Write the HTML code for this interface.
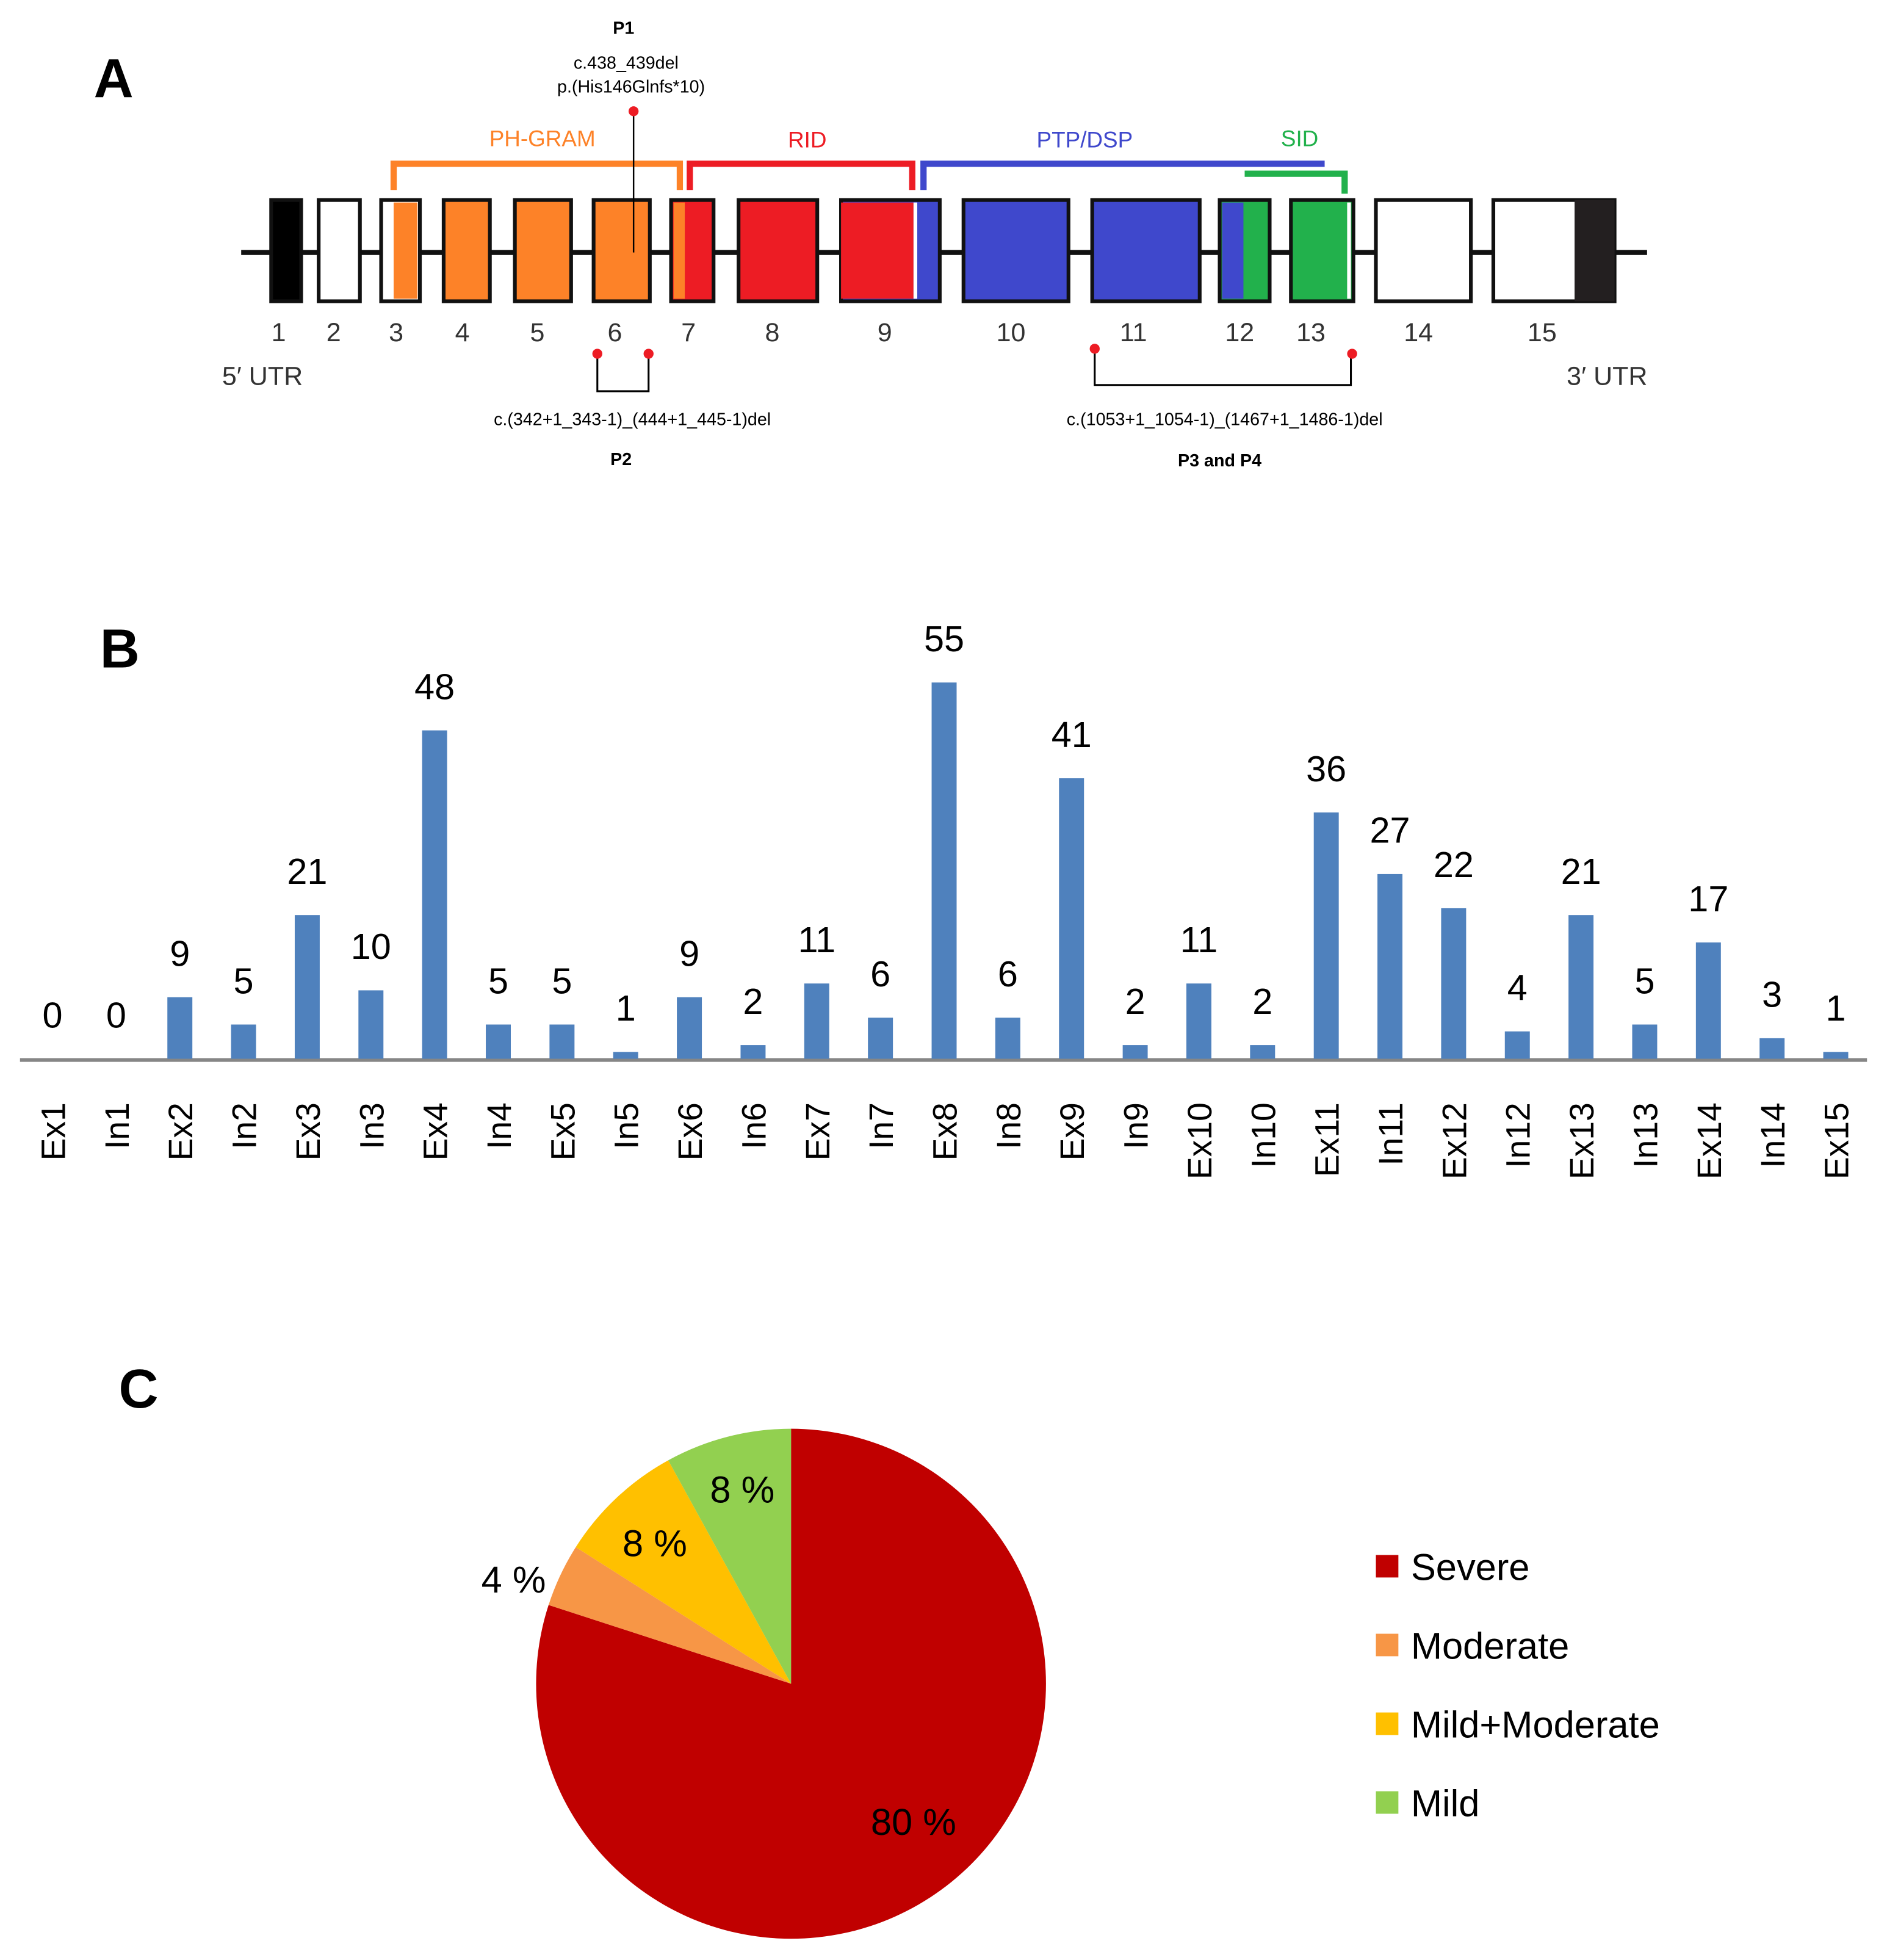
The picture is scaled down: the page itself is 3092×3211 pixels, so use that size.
<!DOCTYPE html>
<html><head><meta charset="utf-8"><style>
html,body{margin:0;padding:0;background:#fff;}
svg{display:block;}
text{font-family:"Liberation Sans",sans-serif;}
.n{font-family:"Liberation Sans Narrow","Liberation Sans",sans-serif;}
</style></head><body>
<svg id="fig" width="3092" height="3211" viewBox="0 0 1510 1568" preserveAspectRatio="none">
<rect width="1510" height="1568" fill="#fff"/>
<!-- Panel A -->
<g>
<text x="75" y="78" font-size="44" font-weight="bold">A</text>
<line x1="193" y1="202" x2="1318" y2="202" stroke="#111" stroke-width="4"/>
<g stroke="#111" stroke-width="3">
<rect x="217" y="160" width="24" height="81" fill="#000"/>
<rect x="255" y="160" width="33" height="81" fill="#fff"/>
<rect x="305" y="160" width="31" height="81" fill="#fff"/>
<rect x="355" y="160" width="37" height="81" fill="#FD8228"/>
<rect x="412" y="160" width="45" height="81" fill="#FD8228"/>
<rect x="475" y="160" width="45" height="81" fill="#FD8228"/>
<rect x="537" y="160" width="34" height="81" fill="#ED1C24"/>
<rect x="591" y="160" width="63" height="81" fill="#ED1C24"/>
<rect x="673" y="160" width="79" height="81" fill="#3F48CC"/>
<rect x="771" y="160" width="84" height="81" fill="#3F48CC"/>
<rect x="874" y="160" width="86" height="81" fill="#3F48CC"/>
<rect x="976" y="160" width="40" height="81" fill="#22B14C"/>
<rect x="1033" y="160" width="50" height="81" fill="#22B14C"/>
<rect x="1101" y="160" width="76" height="81" fill="#fff"/>
<rect x="1195" y="160" width="97" height="81" fill="#fff"/>
</g>
<rect x="315" y="162" width="19" height="77" fill="#FD8228"/>
<rect x="539" y="162" width="9" height="77" fill="#FD8228"/>
<rect x="673" y="162" width="58" height="77" fill="#ED1C24"/>
<rect x="731" y="162" width="3" height="77" fill="#fff"/>
<rect x="978" y="162" width="17" height="77" fill="#3F48CC"/>
<rect x="1078" y="162" width="3" height="77" fill="#fff"/>
<rect x="1260" y="160" width="32" height="81" fill="#231F20"/>
<g fill="none" stroke-width="5">
<path d="M315 152 V131 H544 V152" stroke="#FD8228"/>
<path d="M552 152 V131 H730 V152" stroke="#ED1C24"/>
<path d="M739 152 V131 H1060" stroke="#3F48CC"/>
<path d="M996 139 H1076 V155" stroke="#22B14C"/>
</g>
<g font-size="18" text-anchor="middle" class="n">
<text x="434" y="117" fill="#FD8228">PH-GRAM</text>
<text x="646" y="118" fill="#ED1C24">RID</text>
<text x="868" y="118" fill="#3F48CC">PTP/DSP</text>
<text x="1040" y="117" fill="#22B14C">SID</text>
</g>
<g font-size="14" text-anchor="middle">
<text x="499" y="27" font-weight="bold">P1</text>
<text x="501" y="55">c.438_439del</text>
<text x="505" y="74">p.(His146Glnfs*10)</text>
<text x="506" y="340">c.(342+1_343-1)_(444+1_445-1)del</text>
<text x="497" y="372" font-weight="bold">P2</text>
<text x="980" y="340">c.(1053+1_1054-1)_(1467+1_1486-1)del</text>
<text x="976" y="373" font-weight="bold">P3 and P4</text>
</g>
<line x1="507" y1="89" x2="507" y2="202" stroke="#000" stroke-width="1.2"/>
<circle cx="507" cy="89" r="4" fill="#ED1C24"/>
<path d="M478 283 V313 H519 V283" fill="none" stroke="#000" stroke-width="1.5"/>
<circle cx="478" cy="283" r="4" fill="#ED1C24"/><circle cx="519" cy="283" r="4" fill="#ED1C24"/>
<path d="M876 279 V308 H1081 V283" fill="none" stroke="#000" stroke-width="1.5"/>
<circle cx="876" cy="279" r="4" fill="#ED1C24"/><circle cx="1082" cy="283" r="4" fill="#ED1C24"/>
<g font-size="21" fill="#333" text-anchor="middle" id="exnums"></g>
<text x="210" y="308" font-size="21" fill="#333" text-anchor="middle">5′ UTR</text>
<text x="1286" y="308" font-size="21" fill="#333" text-anchor="middle">3′ UTR</text>
</g>
<!-- Panel B -->
<g id="panelB">
<text x="80" y="534" font-size="44" font-weight="bold">B</text>
<line x1="16" y1="848" x2="1494" y2="848" stroke="#868686" stroke-width="3"/>
</g>
<!-- Panel C -->
<g id="panelC">
<text x="95" y="1126" font-size="44" font-weight="bold">C</text>
</g>
</svg>
<script>
const NS="http://www.w3.org/2000/svg";
function mk(tag,attrs,parent){const e=document.createElementNS(NS,tag);for(const k in attrs)e.setAttribute(k,attrs[k]);parent.appendChild(e);return e;}
// exon numbers
const exonNums=["1","2","3","4","5","6","7","8","9","10","11","12","13","14","15"];
const exonNumX=[223,267,317,370,430,492,551,618,708,809,907,992,1049,1135,1234];
const en=document.getElementById('exnums');
exonNums.forEach((s,i)=>{const t=mk('text',{x:exonNumX[i],y:273},en);t.textContent=s;

});

// Bar chart data
const categories=["Ex1","In1","Ex2","In2","Ex3","In3","Ex4","In4","Ex5","In5","Ex6","In6","Ex7","In7","Ex8","In8","Ex9","In9","Ex10","In10","Ex11","In11","Ex12","In12","Ex13","In13","Ex14","In14","Ex15"];
const counts=[0,0,9,5,21,10,48,5,5,1,9,2,11,6,55,6,41,2,11,2,36,27,22,4,21,5,17,3,1];
const valueLabels=counts.map(String);
const B=document.getElementById('panelB');
const x0=42,step=(1469-42)/28,base=847,ppu=(847-546)/55,bw=20;
const xs=i=>x0+i*step, ys=v=>base-v*ppu;
categories.forEach((c,i)=>{
 const v=counts[i];
 if(v>0){const r=mk('rect',{x:xs(i)-bw/2,y:ys(v),width:bw,height:base-ys(v),fill:'#4F81BD'},B);
 
 }
 const t=mk('text',{x:xs(i),y:ys(v)-25,'font-size':29,'text-anchor':'middle'},B);t.textContent=valueLabels[i];
 
 
 const l=mk('text',{x:0,y:0,'font-size':27,'text-anchor':'end',transform:`translate(${xs(i)+10},882) rotate(-90)`},B);l.textContent=c;
 
 
});

// Pie data
const pieLabels=["Severe","Moderate","Mild+Moderate","Mild"];
const pieValues=[80,4,8,8];
const pieText=["80 %","4 %","8 %","8 %"];
const pieColors=["#C00000","#F79646","#FFC000","#92D050"];
const C=document.getElementById('panelC');
const cx=633,cy=1347,R=204;
const tot=pieValues.reduce((a,b)=>a+b,0);
let a=0;
const labelPos=[[731,1458],[411,1264],[524,1235],[594,1192]];
pieValues.forEach((v,i)=>{
 const a0=a/tot*2*Math.PI,a1=(a+v)/tot*2*Math.PI;a+=v;
 const p0=[cx+R*Math.sin(a0),cy-R*Math.cos(a0)],p1=[cx+R*Math.sin(a1),cy-R*Math.cos(a1)];
 const large=(a1-a0)>Math.PI?1:0;
 const p=mk('path',{d:`M${cx} ${cy} L${p0[0]} ${p0[1]} A${R} ${R} 0 ${large} 1 ${p1[0]} ${p1[1]} Z`,fill:pieColors[i]},C);
 
 
 const t=mk('text',{x:labelPos[i][0],y:labelPos[i][1]+10,'font-size':30,'text-anchor':'middle'},C);t.textContent=pieText[i];
 
 
 const ly=1253+i*63;
 const sw=mk('rect',{x:1101,y:ly-9,width:18,height:18,fill:pieColors[i]},C);
 
 
 const lt=mk('text',{x:1129,y:ly+11,'font-size':30},C);lt.textContent=pieLabels[i];
 
 
});
</script>
</body></html>
